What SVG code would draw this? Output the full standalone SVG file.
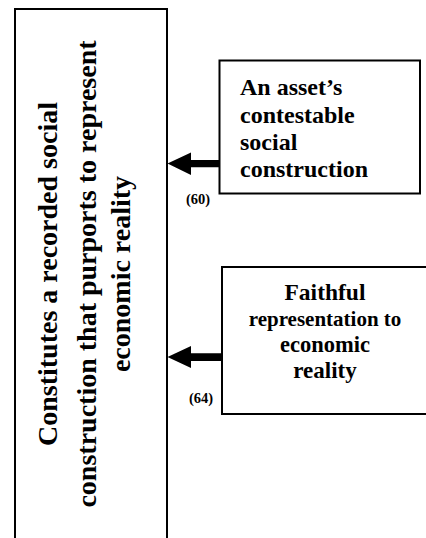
<svg xmlns="http://www.w3.org/2000/svg" width="426" height="538" viewBox="0 0 426 538">
  <style>
    .box { fill: #fff; stroke: #000; stroke-width: 2; }
    .t { font-family: "Liberation Serif", "Times New Roman", serif; font-weight: bold; fill: #000; }
    .main { font-size: 28px; text-anchor: middle; }
    .side { font-size: 24px; }
    .ctr { text-anchor: middle; }
    .ref { font-size: 14.5px; }
    .arrow { fill: #000; }
  </style>
  <rect width="426" height="538" fill="#fff"/>

  <g id="node-main">
    <rect class="box" x="15" y="9" width="152" height="540"/>
    <g transform="rotate(-90)">
      <text class="t main" x="-274" y="57">Constitutes a recorded social</text>
      <text class="t main" x="-274" y="96">construction that purports to represent</text>
      <text class="t main" x="-274" y="130">economic reality</text>
    </g>
  </g>

  <g id="node-asset">
    <rect class="box" x="219.5" y="60.5" width="200.5" height="133"/>
    <text class="t side" x="240" y="95">An asset’s</text>
    <text class="t side" x="240" y="123">contestable</text>
    <text class="t side" x="240" y="150">social</text>
    <text class="t side" x="240" y="177">construction</text>
  </g>

  <g id="node-faithful">
    <rect class="box" x="222" y="267" width="210" height="147"/>
    <text class="t ctr" x="325" y="300" font-size="23.5">Faithful</text>
    <text class="t ctr" x="325" y="326" font-size="21">representation to</text>
    <text class="t ctr" x="325" y="352" font-size="22.5">economic</text>
    <text class="t ctr" x="325" y="378" font-size="23">reality</text>
  </g>

  <g id="connectors">
    <polygon class="arrow" points="167.5,163.5 191,152.5 191,160 219.5,160 219.5,167.3 191,167.3 191,175"/>
    <text class="t ref" x="186" y="203.5">(60)</text>
    <polygon class="arrow" points="167.5,357 191,346 191,353.3 222,353.3 222,361 191,361 191,368"/>
    <text class="t ref" x="189" y="403">(64)</text>
  </g>
</svg>
